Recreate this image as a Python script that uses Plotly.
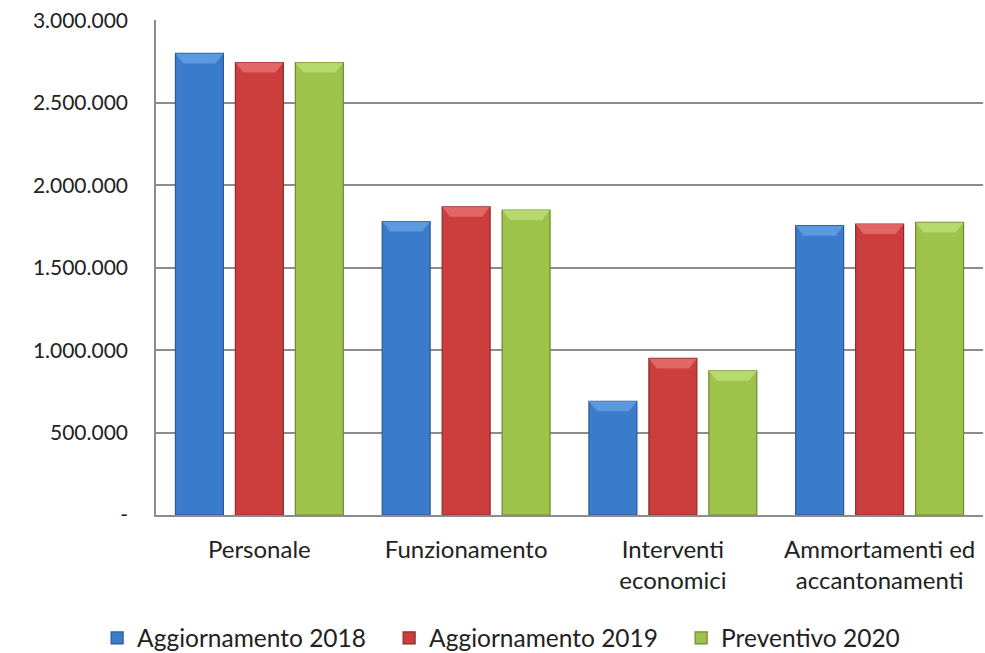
import plotly.graph_objects as go

categories = ["Personale", "Funzionamento", "Interventi<br>economici", "Ammortamenti ed<br>accantonamenti"]
series_names = ["Aggiornamento 2018", "Aggiornamento 2019", "Preventivo 2020"]
agg_2018 = [2800000, 1780000, 690000, 1755000]
agg_2019 = [2745000, 1870000, 950000, 1765000]
prev_2020 = [2745000, 1850000, 875000, 1775000]
y_tickvals = [0, 500000, 1000000, 1500000, 2000000, 2500000, 3000000]
y_ticktext = ["-", "500.000", "1.000.000", "1.500.000", "2.000.000", "2.500.000", "3.000.000"]

colors = ["#3b7bcb", "#cc3e3d", "#9dc34a"]
edge = ["#2b5a96", "#8e2a2a", "#6d8a30"]
light = ["#6aa3e6", "#e97473", "#c2e07a"]

FONT = "Lato"
BARGAP = 0.13
GROUPGAP = 0.2
YMAX = 3003000

fig = go.Figure()
all_series = [agg_2018, agg_2019, prev_2020]
for name, vals, c, e in zip(series_names, all_series, colors, edge):
    fig.add_trace(go.Bar(
        x=categories, y=vals, name=name,
        marker=dict(color=c, line=dict(color=e, width=1.2)),
    ))

# bevel highlight on top of each bar, derived from the data values
n = len(all_series)
slot = (1 - BARGAP) / n
bw = slot * (1 - GROUPGAP)
bevel_h = YMAX * 10 / 495
bevel_d = 8 / 207
for k, vals in enumerate(all_series):
    for i, v in enumerate(vals):
        cx = i + (k - (n - 1) / 2) * slot
        x0, x1 = cx - bw / 2, cx + bw / 2
        path = (f"M {x0},{v} L {x1},{v} L {x1 - bevel_d},{v - bevel_h} "
                f"L {x0 + bevel_d},{v - bevel_h} Z")
        fig.add_shape(type="path", path=path, xref="x", yref="y",
                      fillcolor=light[k], opacity=0.75, line=dict(width=0), layer="above")

fig.update_layout(
    width=985, height=653,
    margin=dict(l=156, r=2, t=20, b=138, autoexpand=False),
    paper_bgcolor="white", plot_bgcolor="white",
    barmode="group", bargap=BARGAP, bargroupgap=GROUPGAP,
    font=dict(family=FONT, color="#222222", size=20),
    showlegend=True,
    legend=dict(orientation="h", x=-0.0712, xanchor="left", y=-0.2485, yanchor="middle",
                font=dict(size=24.5, family=FONT), itemwidth=30, traceorder="normal",
                entrywidth=247),
)
fig.update_yaxes(
    range=[0, YMAX], tickvals=y_tickvals, ticktext=y_ticktext,
    showgrid=True, gridcolor="#8c8c8c", gridwidth=1.5,
    showline=True, linecolor="#8c8c8c", linewidth=1.5,
    zeroline=False, ticks="", ticklabelstandoff=22,
    tickfont=dict(size=21, family=FONT, color="#222222"),
)
fig.update_xaxes(
    showline=True, linecolor="#8c8c8c", linewidth=1.5,
    ticks="", ticklabelstandoff=12,
    tickfont=dict(size=24, family=FONT, color="#222222"),
)

fig.write_html("out.html", config={"displayModeBar": False},
               post_script="document.body.style.margin='0px';")
